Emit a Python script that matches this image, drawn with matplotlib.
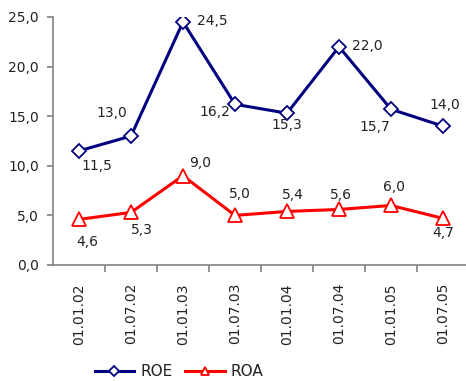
import matplotlib.pyplot as plt
from matplotlib.ticker import FuncFormatter

plt.rcParams['font.family'] = 'DejaVu Sans'
plt.rcParams['font.size'] = 10

# data
dates = ["01.01.02", "01.07.02", "01.01.03", "01.07.03",
         "01.01.04", "01.07.04", "01.01.05", "01.07.05"]
roe = [11.5, 13.0, 24.5, 16.2, 15.3, 22.0, 15.7, 14.0]
roa = [4.6, 5.3, 9.0, 5.0, 5.4, 5.6, 6.0, 4.7]

# label offsets (pixels) for each value label
roe_off = [(18, -15), (-19, 23), (29, 1), (-20, -8),
           (0, -12), (28, 1), (-16, -18), (2, 21)]
roa_off = [(8, -23), (11, -18), (17, 13), (5, 21),
           (6, 16), (2, 14), (3, 18), (0, -15)]

txt_col = "#222222"
ax_col = "#808080"

fig = plt.figure(figsize=(4.66, 3.81), dpi=100)
ax = fig.add_axes([53 / 466, 116 / 381, 416 / 466, 248 / 381])

x = list(range(len(dates)))
l1, = ax.plot(x, roe, color="#000080", lw=2.2, marker="D", ms=7.5,
              mfc="white", mec="#000080", mew=1.3, label="ROE", zorder=3)
l2, = ax.plot(x, roa, color="#ff0000", lw=2.2, marker="^", ms=9.5,
              mfc="white", mec="#ff0000", mew=1.3, label="ROA", zorder=3)

fmt = lambda v: f"{v:.1f}".replace(".", ",")
for xi, v, (dx, dy) in zip(x, roe, roe_off):
    ax.annotate(fmt(v), (xi, v), xytext=(dx, dy), textcoords="offset pixels",
                ha="center", va="center", color=txt_col)
for xi, v, (dx, dy) in zip(x, roa, roa_off):
    ax.annotate(fmt(v), (xi, v), xytext=(dx, dy), textcoords="offset pixels",
                ha="center", va="center", color=txt_col)

ax.set_xlim(-0.5, len(dates) - 0.5)
ax.set_ylim(0, 25)
ax.set_yticks([0, 5, 10, 15, 20, 25])
ax.yaxis.set_major_formatter(FuncFormatter(lambda v, p: fmt(v)))

ax.set_xticks(x)
ax.set_xticklabels(dates, rotation=90)
ax.set_xticks([i + 0.5 for i in x[:-1]], minor=True)
ax.tick_params(axis="x", which="major", length=0, pad=13, colors=txt_col)
ax.tick_params(axis="x", which="minor", length=5, width=1.2, color=ax_col)
ax.tick_params(axis="y", length=4, width=1.2, color=ax_col, pad=6,
               labelcolor=txt_col)

for s in ["top", "right"]:
    ax.spines[s].set_visible(False)
for s in ["left", "bottom"]:
    ax.spines[s].set_color(ax_col)
    ax.spines[s].set_linewidth(1.2)

fig.legend(handles=[l1, l2], loc="center", bbox_to_anchor=(179 / 466, 9 / 381),
           ncol=2, frameon=False, handlelength=2.6, handletextpad=0.4,
           columnspacing=0.8, markerscale=0.65, labelcolor=txt_col,
           fontsize=11)

fig.savefig("out.png", dpi=100)
